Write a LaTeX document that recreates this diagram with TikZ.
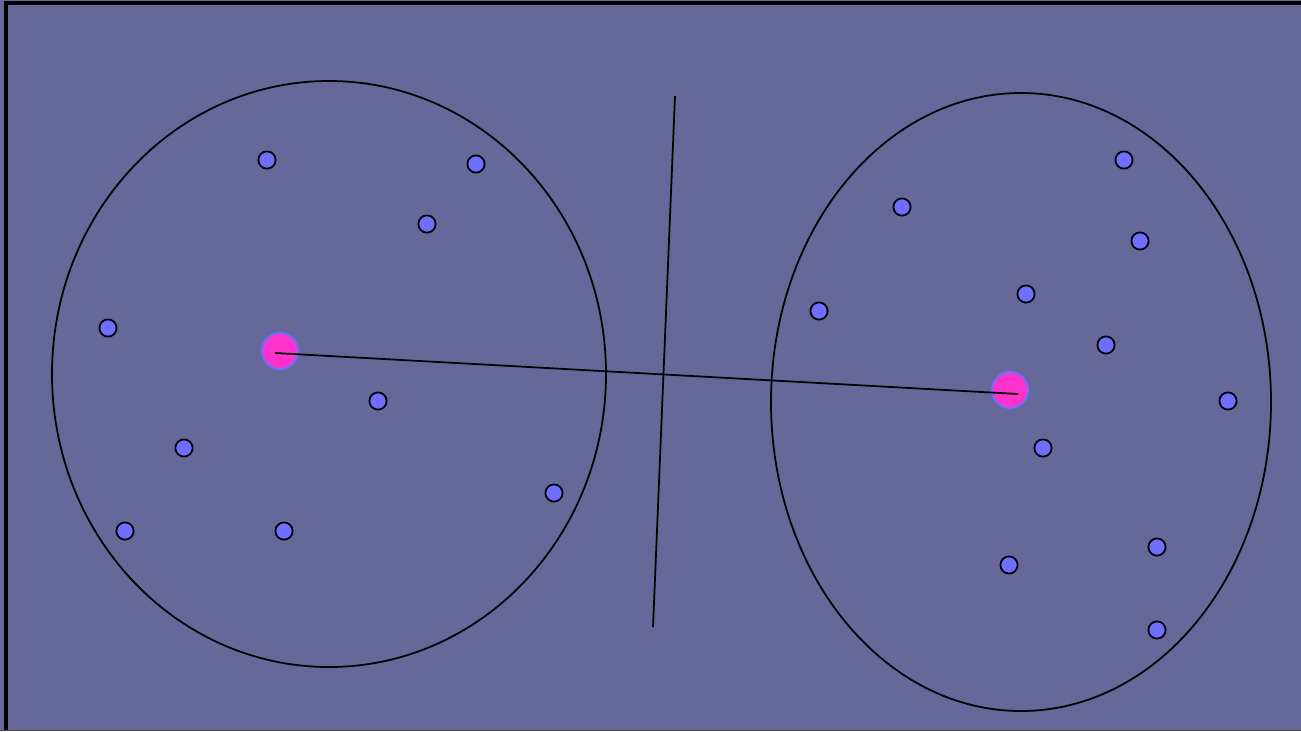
\documentclass[tikz,border=0pt]{standalone}
\usepackage{xcolor}
\usetikzlibrary{calc, positioning}

\definecolor{bgslate}{RGB}{103,104,154}
\definecolor{ptblue}{RGB}{111,111,255}
\definecolor{ctrpink}{RGB}{255,51,204}
\definecolor{ctrring}{RGB}{110,110,255}

\tikzset{
  sample/.style={circle, draw=black, fill=ptblue, line width=1pt, minimum size=9.8pt, inner sep=0pt},
  centroid/.style={circle, draw=ctrring, fill=ctrpink, line width=1.1pt, minimum size=20.5pt, inner sep=0pt},
  outline/.style={line width=1pt, black},
}

\begin{document}
\begin{tikzpicture}[x=0.02cm,y=-0.02cm]
\useasboundingbox (0,0) rectangle (1301,731);
\fill[bgslate] (0,0) rectangle (1301,731);

% Frame edges
\draw[line width=2pt,black] (6,731) -- (6,3) -- (1301,3);
\draw[line width=0.7pt,black!70] (0,730.5) -- (1301,730.5);

% Cluster outlines
\draw[outline] (329,374) ellipse (277 and 293);
\draw[outline] (1021,402) ellipse (250 and 309);

% Separating line
\coordinate (st) at (675,96);
\coordinate (sb) at (653,627);
\draw[outline] (st) -- (sb);

% Left cluster samples
\node[sample] (a1) at (267,160) {};
\node[sample] (a2) at (476,164) {};
\node[sample] (a3) at (427,224) {};
\node[sample] (a4) at (108,328) {};
\node[sample] (a5) at (378,401) {};
\node[sample] (a6) at (184,448) {};
\node[sample] (a7) at (554,493) {};
\node[sample] (a8) at (125,531) {};
\node[sample] (a9) at (284,531) {};

% Right cluster samples
\node[sample] (b1) at (1124,160) {};
\node[sample] (b2) at (902,207) {};
\node[sample] (b3) at (1140,241) {};
\node[sample] (b4) at (1026,294) {};
\node[sample] (b5) at (819,311) {};
\node[sample] (b6) at (1106,345) {};
\node[sample] (b7) at (1228,401) {};
\node[sample] (b8) at (1043,448) {};
\node[sample] (b9) at (1157,547) {};
\node[sample] (b10) at (1009,565) {};
\node[sample] (b11) at (1157,630) {};

% Centroids and the link between them
\node[centroid] (ca) at (280,351) {};
\node[centroid] (cb) at (1010,390) {};
\coordinate (la) at (275,353);
\coordinate (lb) at (1018,394);
\draw[outline] (la) -- (lb);
\end{tikzpicture}
\end{document}
